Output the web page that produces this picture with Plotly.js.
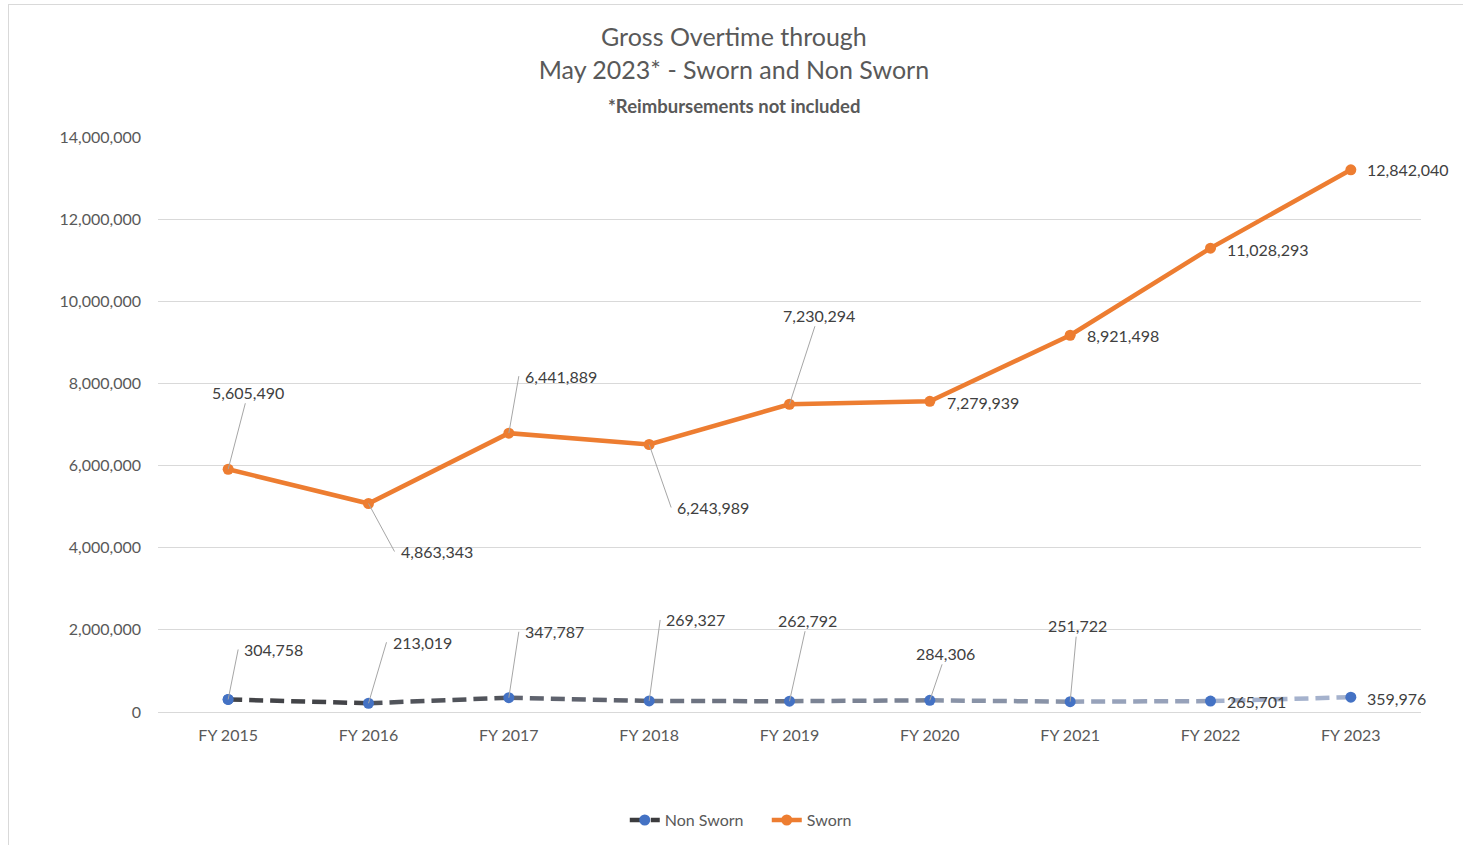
<!DOCTYPE html>
<html><head><meta charset="utf-8">
<script src="https://cdn.plot.ly/plotly-3.0.1.min.js"></script>
<style>
html,body{margin:0;padding:0;background:#fff;overflow:hidden;}
#chart{position:absolute;left:0;top:0;width:1463px;height:845px;}
#frame{position:absolute;left:8px;top:4px;width:1460px;height:850px;border-left:1px solid #d9d9d9;border-top:1px solid #d9d9d9;pointer-events:none;}
</style>
</head><body><div id="chart"></div><div id="frame"></div>
<script>
// ---- data ----
const categories = ['FY 2015','FY 2016','FY 2017','FY 2018','FY 2019','FY 2020','FY 2021','FY 2022','FY 2023'];
const nonSworn = [304758, 213019, 347787, 269327, 262792, 284306, 251722, 265701, 359976];
const sworn = [5605490, 4863343, 6441889, 6243989, 7230294, 7279939, 8921498, 11028293, 12842040];
const yTickVals = [0, 2000000, 4000000, 6000000, 8000000, 10000000, 12000000, 14000000];

// ---- styles ----
const FONT = 'Lato, "Open Sans", sans-serif';
const ORANGE = '#ED7D31';
const BLUE = '#4472C4';
const GRAD_START = [60, 60, 62];
const GRAD_END = [172, 186, 214];
// label placement [ax, ay, leader style]: 'c' = centred text with leader, 'l' = leader to left side of text, 'n' = no leader
const swornLabelPos = [[20,-77,'c'],[26,48,'l'],[10,-57,'l'],[22,63,'l'],[29,-89,'c'],[53,1,'n'],[53,0,'n'],[57,1,'n'],[57,0,'n']];
const nonSwornLabelPos = [[10,-50,'l'],[18,-61,'l'],[10,-66,'l'],[11,-81,'l'],[18,-81,'c'],[16,-47,'c'],[7,-76,'c'],[46,0,'n'],[46,1,'n']];

// stacked line chart: sworn is drawn on top of non sworn
const swornTop = sworn.map((v, i) => v + nonSworn[i]);

function mix(t) {
  const c = GRAD_START.map((s, k) => Math.round(s + (GRAD_END[k] - s) * t));
  return 'rgb(' + c.join(',') + ')';
}

const traces = [];
// legend entry for Non Sworn (single first point, so no extra line is drawn)
traces.push({
  x: categories.slice(0, 1), y: nonSworn.slice(0, 1), type: 'scatter', mode: 'lines+markers', name: 'Non Sworn',
  line: {color: mix(0), width: 4.5, dash: '14px,7px'},
  marker: {color: BLUE, size: 11},
  hoverinfo: 'skip', showlegend: true
});
const n = categories.length;
for (let i = 0; i < n - 1; i++) {
  traces.push({
    x: [categories[i], categories[i+1]], y: [nonSworn[i], nonSworn[i+1]],
    type: 'scatter', mode: 'lines', showlegend: false, hoverinfo: 'skip',
    line: {color: mix((i + 0.5) / (n - 1)), width: 4.5, dash: '14px,7px'}
  });
}
traces.push({
  x: categories, y: nonSworn, type: 'scatter', mode: 'markers', showlegend: false, hoverinfo: 'skip',
  marker: {color: BLUE, size: 11}
});
traces.push({
  x: categories, y: swornTop, type: 'scatter', mode: 'lines+markers', name: 'Sworn',
  line: {color: ORANGE, width: 4.5},
  marker: {color: ORANGE, size: 11},
  hoverinfo: 'skip'
});

const fmt = v => v.toLocaleString('en-US');
const annotations = [];
function addLabels(vals, ys, pos) {
  vals.forEach((v, i) => {
    const [ax, ay, style] = pos[i];
    const a = {
      x: categories[i], y: ys[i], xref: 'x', yref: 'y', text: fmt(v),
      font: {family: FONT, size: 16, color: '#404040'}
    };
    if (style === 'n') {
      Object.assign(a, {showarrow: false, xshift: ax, yshift: -ay, xanchor: 'center', yanchor: 'middle'});
    } else {
      Object.assign(a, {showarrow: true, ax: ax, ay: ay, arrowhead: 0, arrowwidth: 1, arrowcolor: '#a6a6a6', standoff: 0,
        xanchor: style === 'l' ? 'left' : 'center', yanchor: 'middle', borderpad: style === 'l' ? 5 : 1});
    }
    annotations.push(a);
  });
}
addLabels(sworn, swornTop, swornLabelPos);
addLabels(nonSworn, nonSworn, nonSwornLabelPos);

annotations.push({
  xref: 'paper', yref: 'paper', x: 0.456, y: 1.054, xanchor: 'center', yanchor: 'middle', showarrow: false,
  text: '<b>*Reimbursements not included</b>',
  font: {family: FONT, size: 18.5, color: '#595959'}
});

const layout = {
  width: 1463, height: 845,
  margin: {l: 158, r: 42, t: 137, b: 133, autoexpand: false},
  paper_bgcolor: 'rgba(0,0,0,0)', plot_bgcolor: 'rgba(0,0,0,0)',
  font: {family: FONT, color: '#595959', size: 16},
  title: {
    text: 'Gross Overtime through<br>May 2023* - Sworn and Non Sworn',
    font: {family: FONT, size: 25, color: '#595959'},
    x: 0.456, xref: 'paper', xanchor: 'center',
    y: 0.945, yref: 'container', yanchor: 'top'
  },
  xaxis: {
    type: 'category', range: [-0.5, 8.5], showgrid: false, showline: false, zeroline: false,
    ticks: '', ticklabelstandoff: 12,
    tickfont: {family: FONT, size: 16, color: '#595959'}
  },
  yaxis: {
    range: [0, 14000000], tickvals: yTickVals, tickformat: ',d',
    showgrid: true, gridcolor: '#d9d9d9', gridwidth: 1,
    zeroline: true, zerolinecolor: '#d9d9d9', zerolinewidth: 1,
    showline: false, ticks: '', ticklabelstandoff: 16,
    tickfont: {family: FONT, size: 16, color: '#595959'}
  },
  showlegend: true,
  legend: {
    orientation: 'h', x: 0.482, xanchor: 'center', y: -0.188, yanchor: 'middle',
    font: {family: FONT, size: 16, color: '#595959'}, traceorder: 'normal',
    entrywidth: 97, entrywidthmode: 'pixels'
  },
  annotations: annotations,
  hovermode: false
};

Plotly.newPlot('chart', traces, layout, {displayModeBar: false, staticPlot: true});
</script>
</body></html>
